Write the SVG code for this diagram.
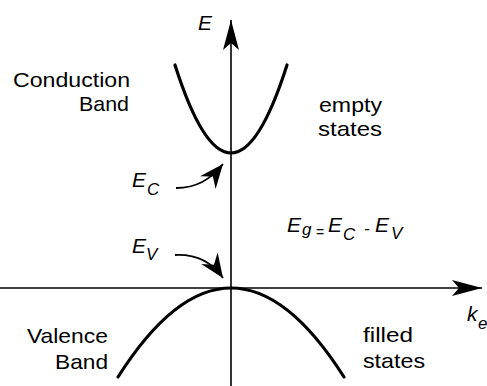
<svg xmlns="http://www.w3.org/2000/svg" width="487" height="386" viewBox="0 0 487 386">
<style>
  .txt { font-family: "Liberation Sans", Arial, sans-serif; fill: #000; }
  .lbl { font-size: 21px; }
  .it { font-style: italic; font-size: 21px; }
  .sub { font-style: italic; font-size: 17px; }
  .axis { stroke: #000; stroke-width: 1.6; fill: none; }
  .band { stroke: #000; stroke-width: 3.2; fill: none; stroke-linecap: round; }
  .ptr { stroke: #000; stroke-width: 1.8; fill: none; }
</style>
<defs>
  <marker id="axHead" markerUnits="userSpaceOnUse" markerWidth="40" markerHeight="40" viewBox="-35 -20 40 40" refX="0" refY="0" orient="auto" overflow="visible">
    <path d="M0,0 L-30,-8 L-23,0 L-30,8 Z" fill="#000"/>
  </marker>
  <marker id="ptrHead" markerUnits="userSpaceOnUse" markerWidth="40" markerHeight="40" viewBox="-35 -20 40 40" refX="0" refY="0" orient="auto" overflow="visible">
    <path d="M0,0 L-24,-10 L-16,0 L-24,10 Z" fill="#000"/>
  </marker>
</defs>

<g id="connectors">
  <path id="axis-E" class="axis" d="M231,386 L231,20" marker-end="url(#axHead)"/>
  <path id="axis-k" class="axis" d="M0,288 L482,288" marker-end="url(#axHead)"/>
  <path id="ptr-EC" class="ptr" d="M176,188 C196,188 210,180 223,164" marker-end="url(#ptrHead)"/>
  <path id="ptr-EV" class="ptr" d="M175,255 C196,254 212,262 223,278" marker-end="url(#ptrHead)"/>
</g>

<g id="conduction-band">
  <path class="band" d="M175,65 Q231,241 287,65"/>
  <text class="txt lbl" x="13" y="87" textLength="117" lengthAdjust="spacingAndGlyphs">Conduction</text>
  <text class="txt lbl" x="79" y="111" textLength="50" lengthAdjust="spacingAndGlyphs">Band</text>
</g>

<g id="valence-band">
  <path class="band" d="M118,377 Q231,199 344,377"/>
  <text class="txt lbl" x="27" y="343" textLength="81" lengthAdjust="spacingAndGlyphs">Valence</text>
  <text class="txt lbl" x="55" y="369" textLength="53" lengthAdjust="spacingAndGlyphs">Band</text>
</g>

<g id="empty-states">
  <text class="txt lbl" x="319" y="112" textLength="63" lengthAdjust="spacingAndGlyphs">empty</text>
  <text class="txt lbl" x="318" y="136" textLength="64" lengthAdjust="spacingAndGlyphs">states</text>
</g>

<g id="filled-states">
  <text class="txt lbl" x="363" y="342" textLength="50" lengthAdjust="spacingAndGlyphs">filled</text>
  <text class="txt lbl" x="363" y="368" textLength="62" lengthAdjust="spacingAndGlyphs">states</text>
</g>

<g id="label-E">
  <text class="txt it" x="198" y="30">E</text>
</g>

<g id="label-k">
  <text class="txt it" x="467" y="321">k</text>
  <text class="txt sub" x="478" y="329">e</text>
</g>

<g id="label-EC">
  <text class="txt it" x="132" y="187">E</text>
  <text class="txt sub" x="147" y="195">C</text>
</g>

<g id="label-EV">
  <text class="txt it" x="132" y="253">E</text>
  <text class="txt sub" x="146" y="260">V</text>
</g>

<g id="label-Eg">
  <text class="txt it" x="287" y="232">E</text>
  <text class="txt sub" x="302" y="235">g</text>
  <text class="txt" x="316" y="237" style="font-size:14px">=</text>
  <text class="txt it" x="328" y="232">E</text>
  <text class="txt sub" x="343" y="240">C</text>
  <text class="txt sub" x="364" y="234">-</text>
  <text class="txt it" x="375" y="232">E</text>
  <text class="txt sub" x="391" y="239">V</text>
</g>
</svg>
